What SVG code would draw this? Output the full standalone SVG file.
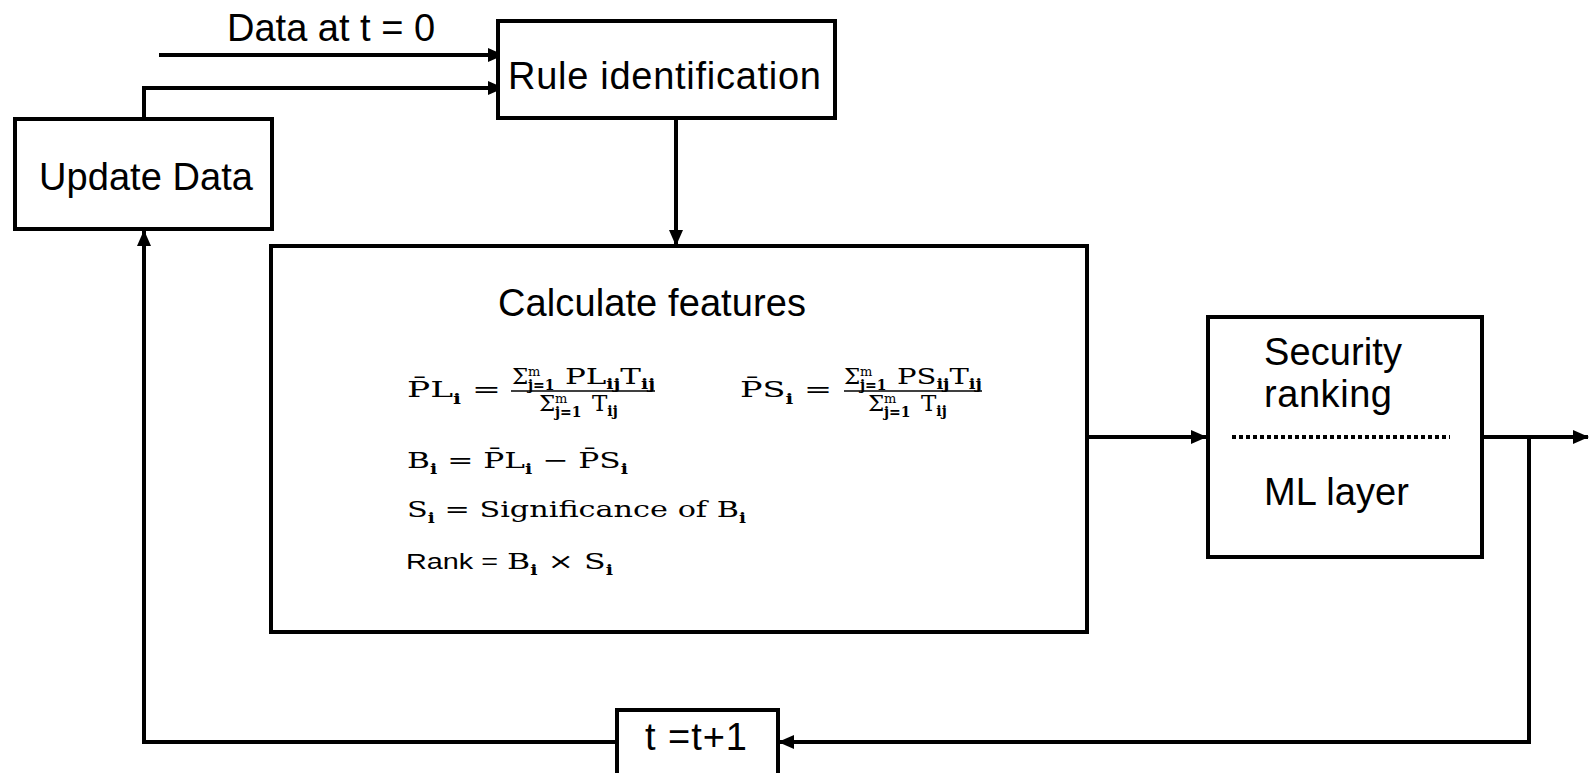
<svg xmlns="http://www.w3.org/2000/svg" width="1589" height="773" viewBox="0 0 1589 773">
<style>
.box{fill:#fff;stroke:#000;stroke-width:4}
.lbl{font-family:"Liberation Sans",Arial,sans-serif;font-size:38px;fill:#000}
.m{font-family:"DejaVu Serif","Liberation Serif",serif;font-size:23px;fill:#000}
.sm{font-size:14px;font-weight:bold}
.sup{font-size:13px}
.rk{font-family:"Liberation Sans",Arial,sans-serif;font-size:22px}
.c{fill:none;stroke:#000;stroke-width:4}
</style>
<defs>
<marker id="ah" markerUnits="userSpaceOnUse" markerWidth="16" markerHeight="14" refX="15" refY="7" orient="auto">
<path d="M0,0 L16,7 L0,14 Z" fill="#000"/>
</marker>
</defs>
<g id="connectors">
<path class="c" d="M159,55 H503" marker-end="url(#ah)"/>
<path class="c" d="M144,119 V88 H503" marker-end="url(#ah)"/>
<path class="c" d="M676,119 V245" marker-end="url(#ah)"/>
<path class="c" d="M1087,437 H1206" marker-end="url(#ah)"/>
<path class="c" d="M1482,437 H1588" marker-end="url(#ah)"/>
<path class="c" d="M1529,437 V742 H779" marker-end="url(#ah)"/>
<path class="c" d="M617,742 H144 V231" marker-end="url(#ah)"/>
</g>
<text class="lbl" x="227" y="41">Data at t = 0</text>
<g id="rule">
<rect class="box" x="498" y="21" width="337" height="97"/>
<text class="lbl" x="508" y="89" textLength="313">Rule identification</text>
</g>
<g id="update">
<rect class="box" x="15" y="119" width="257" height="110"/>
<text class="lbl" x="39" y="190" textLength="214">Update Data</text>
</g>
<g id="calc">
<rect class="box" x="271" y="246" width="816" height="386"/>
<text class="lbl" x="498" y="316" textLength="308">Calculate features</text>
<text class="m" x="407" y="397" font-size="24" textLength="94" lengthAdjust="spacingAndGlyphs">P̄L<tspan class="sm" dy="7">i</tspan><tspan dy="-7"> =</tspan></text>
<text class="m" x="512" y="384" font-size="21">Σ</text>
<text class="m sup" x="528" y="376">m</text>
<text class="m sm" x="528" y="390" font-size="13">j=1</text>
<text class="m" x="565" y="384" font-size="17" textLength="90" lengthAdjust="spacingAndGlyphs">PL<tspan class="sm" dy="5" font-size="13">ij</tspan><tspan dy="-5">T</tspan><tspan class="sm" dy="5" font-size="13">ij</tspan></text>
<line x1="511" y1="391" x2="655" y2="391" stroke="#000" stroke-width="1.5"/>
<text class="m" x="539" y="411" font-size="21">Σ</text>
<text class="m sup" x="555" y="403">m</text>
<text class="m sm" x="555" y="417" font-size="13">j=1</text>
<text class="m" x="592" y="411" font-size="17">T<tspan class="sm" dy="5" font-size="13">ij</tspan></text>
<text class="m" x="740" y="397" font-size="24" textLength="92" lengthAdjust="spacingAndGlyphs">P̄S<tspan class="sm" dy="7">i</tspan><tspan dy="-7"> =</tspan></text>
<text class="m" x="844" y="384" font-size="21">Σ</text>
<text class="m sup" x="860" y="376">m</text>
<text class="m sm" x="860" y="390" font-size="13">j=1</text>
<text class="m" x="897" y="384" font-size="17" textLength="85" lengthAdjust="spacingAndGlyphs">PS<tspan class="sm" dy="5" font-size="13">ij</tspan><tspan dy="-5">T</tspan><tspan class="sm" dy="5" font-size="13">ij</tspan></text>
<line x1="844" y1="391" x2="982" y2="391" stroke="#000" stroke-width="1.5"/>
<text class="m" x="868" y="411" font-size="21">Σ</text>
<text class="m sup" x="884" y="403">m</text>
<text class="m sm" x="884" y="417" font-size="13">j=1</text>
<text class="m" x="921" y="411" font-size="17">T<tspan class="sm" dy="5" font-size="13">ij</tspan></text>
<text class="m" x="407" y="468" textLength="221" lengthAdjust="spacingAndGlyphs">B<tspan class="sm" dy="6">i</tspan><tspan dy="-6"> = P̄L</tspan><tspan class="sm" dy="6">i</tspan><tspan dy="-6"> − P̄S</tspan><tspan class="sm" dy="6">i</tspan></text>
<text class="m" x="407" y="517" textLength="339" lengthAdjust="spacingAndGlyphs">S<tspan class="sm" dy="6">i</tspan><tspan dy="-6"> = Significance of B</tspan><tspan class="sm" dy="6">i</tspan></text>
<text class="rk" x="406" y="569" textLength="92" lengthAdjust="spacingAndGlyphs">Rank =</text>
<text class="m" x="507" y="569" textLength="106" lengthAdjust="spacingAndGlyphs">B<tspan class="sm" dy="6">i</tspan><tspan dy="-6"> × S</tspan><tspan class="sm" dy="6">i</tspan></text>
</g>
<g id="security">
<rect class="box" x="1208" y="317" width="274" height="240"/>
<text class="lbl" x="1264" y="365" textLength="138">Security</text>
<text class="lbl" x="1264" y="407" textLength="128">ranking</text>
<line x1="1232" y1="437" x2="1450" y2="437" stroke="#000" stroke-width="4" stroke-dasharray="4,3"/>
<text class="lbl" x="1264" y="505" textLength="145">ML layer</text>
</g>
<g id="tstep">
<rect class="box" x="617" y="710" width="161" height="70"/>
<text class="lbl" x="645" y="750" textLength="102">t =t+1</text>
</g>
</svg>
